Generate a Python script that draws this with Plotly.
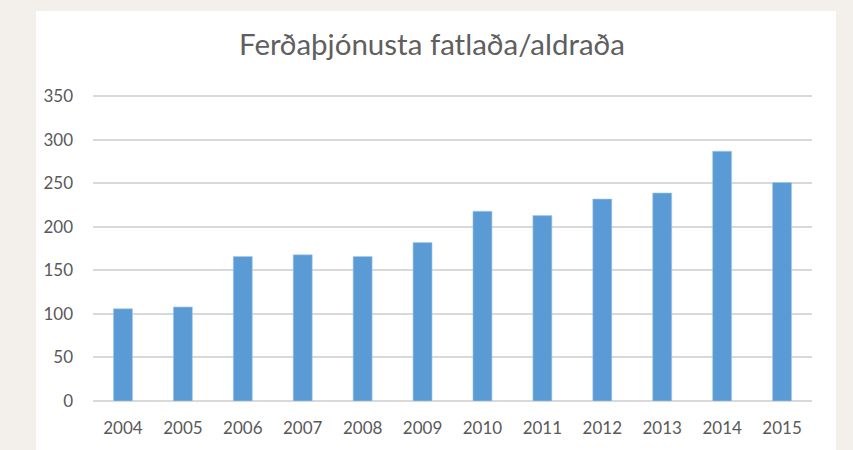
import plotly.graph_objects as go

years = ["2004", "2005", "2006", "2007", "2008", "2009", "2010", "2011", "2012", "2013", "2014", "2015"]
values = [106, 108, 166, 168, 166, 182, 218, 213, 232, 239, 287, 251]
y_ticks = [0, 50, 100, 150, 200, 250, 300, 350]
title_text = "Ferðaþjónusta fatlaða/aldraða"

W, H = 853, 450
L, R, T, B = 93, 41, 92, 45
pw, ph = W - L - R, H - T - B

fig = go.Figure(go.Bar(
    x=years, y=values,
    marker=dict(color="#5B9BD5", line=dict(color="#A9C9EA", width=0.6)),
    hoverinfo="x+y",
))

fig.update_layout(
    width=W, height=H,
    paper_bgcolor="#F3F0EB",
    plot_bgcolor="#FFFFFF",
    margin=dict(l=L, r=R, t=T, b=B),
    bargap=0.683,
    showlegend=False,
    font=dict(family="Lato, 'Open Sans', sans-serif", color="#595959", size=17),
    title=dict(text=title_text, x=432 / W, xanchor="center", y=1 - 45 / H, yanchor="middle",
               font=dict(size=29.5, color="#5f5f5f", family="Lato, sans-serif")),
    shapes=[dict(type="rect", xref="paper", yref="paper", layer="below",
                 x0=(36 - L) / pw, x1=(836 - L) / pw, y0=-(B + 40) / ph, y1=(H - 10 - B) / ph,
                 fillcolor="#FFFFFF", line=dict(width=0))],
    xaxis=dict(showgrid=False, showline=False, zeroline=False, ticks="",
               ticklabelstandoff=15, tickfont=dict(size=17, color="#595959")),
    yaxis=dict(range=[0, 355], tickvals=y_ticks, showgrid=True, gridcolor="#D9D9D9", gridwidth=1.5,
               zeroline=True, zerolinecolor="#D9D9D9", zerolinewidth=1.5, showline=False,
               ticks="", ticklabelstandoff=19, tickfont=dict(size=17, color="#595959")),
)

fig.write_html("out.html", config={"displayModeBar": False},
               post_script="document.body.style.margin='0';document.body.style.padding='0';")
